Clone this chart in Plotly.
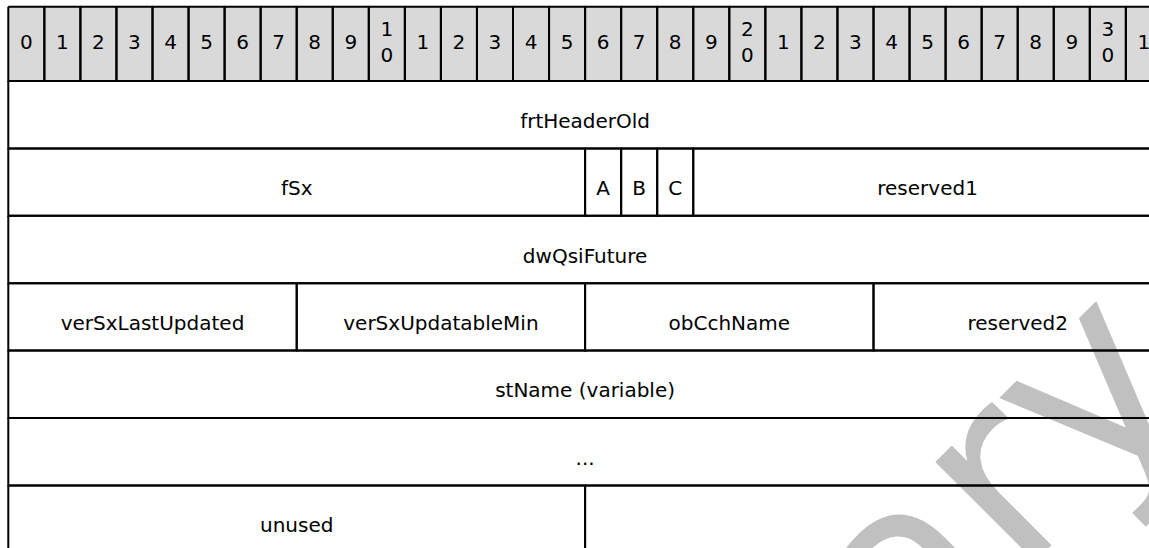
import plotly.graph_objects as go

# ---- data -------------------------------------------------------------
bit_labels = ["0", "1", "2", "3", "4", "5", "6", "7", "8", "9",
              "1<br>0", "1", "2", "3", "4", "5", "6", "7", "8", "9",
              "2<br>0", "1", "2", "3", "4", "5", "6", "7", "8", "9",
              "3<br>0", "1"]

field_names = ["frtHeaderOld", "fSx", "A", "B", "C", "reserved1", "dwQsiFuture",
               "verSxLastUpdated", "verSxUpdatableMin", "obCchName", "reserved2",
               "stName (variable)", "...", "unused", ""]
field_rows = [0, 1, 1, 1, 1, 1, 2, 3, 3, 3, 3, 4, 5, 6, 6]
field_start_bits = [0, 0, 16, 17, 18, 19, 0, 0, 8, 16, 24, 0, 0, 0, 16]
field_bit_lengths = [32, 16, 1, 1, 1, 13, 32, 8, 8, 8, 8, 32, 32, 16, 16]

watermark_text = "Preliminary"

# ---- layout constants -------------------------------------------------
W, H = 1149, 548
X0_PX = 8.3          # pixel of bit 0 left edge
BIT_PX = 36.05       # pixels per bit
HEADER_TOP = 6.7
HEADER_BOTTOM = 81.0
ROW_H = 67.4
TEXT_DY = 8.0
FONT = "DejaVu Sans"
FONT_SIZE = 20
HEADER_FILL = "#d9d9d9"
WM_COLOR = "#c0c0c0"
WM_SIZE = 258
WM_CENTER_PX = (610, 834)

n_bits = len(bit_labels)

# ---- borders ----------------------------------------------------------
bx, by = [], []


def add_rect(x0, x1, y0, y1):
    bx.extend([x0, x1, x1, x0, x0, None])
    by.extend([y0, y0, y1, y1, y0, None])


for i in range(n_bits):
    add_rect(i, i + 1, HEADER_TOP, HEADER_BOTTOM)

for r, s, l in zip(field_rows, field_start_bits, field_bit_lengths):
    y0 = HEADER_BOTTOM + r * ROW_H
    add_rect(s, s + l, y0, y0 + ROW_H)

fig = go.Figure()

fig.add_trace(go.Scatter(
    x=bx, y=by, mode="lines",
    line=dict(color="black", width=2),
    hoverinfo="skip", showlegend=False,
))

# header labels
fig.add_trace(go.Scatter(
    x=[i + 0.5 for i in range(n_bits)],
    y=[(HEADER_TOP + HEADER_BOTTOM) / 2] * n_bits,
    mode="text", text=bit_labels, textposition="middle center",
    textfont=dict(family=FONT, size=FONT_SIZE, color="black"),
    hoverinfo="skip", showlegend=False,
))

# field labels
fig.add_trace(go.Scatter(
    x=[s + l / 2 for s, l in zip(field_start_bits, field_bit_lengths)],
    y=[HEADER_BOTTOM + (r + 0.5) * ROW_H + TEXT_DY for r in field_rows],
    mode="text", text=field_names, textposition="middle center",
    textfont=dict(family=FONT, size=FONT_SIZE, color="black"),
    hoverinfo="skip", showlegend=False,
))

# header background
fig.add_shape(type="rect", xref="x", yref="y",
              x0=0, x1=n_bits, y0=HEADER_TOP, y1=HEADER_BOTTOM,
              fillcolor=HEADER_FILL, line=dict(width=0), layer="below")

# watermark (label of an invisible shape, drawn beneath the lines)
wcx = (WM_CENTER_PX[0] - X0_PX) / BIT_PX
wcy = WM_CENTER_PX[1]
fig.add_shape(type="rect", xref="x", yref="y",
              x0=wcx - 0.05, x1=wcx + 0.05, y0=wcy - 1, y1=wcy + 1,
              fillcolor="rgba(0,0,0,0)", line=dict(width=0), layer="below",
              label=dict(text=watermark_text, textangle=-45,
                         textposition="middle center",
                         font=dict(family=FONT, size=WM_SIZE, color=WM_COLOR)))

fig.update_layout(
    width=W, height=H,
    margin=dict(l=0, r=0, t=0, b=0),
    paper_bgcolor="white", plot_bgcolor="white",
    xaxis=dict(range=[(0 - X0_PX) / BIT_PX, (W - X0_PX) / BIT_PX],
               visible=False, fixedrange=True),
    yaxis=dict(range=[H, 0], visible=False, fixedrange=True),
    showlegend=False,
)

fig.write_html(
    "out.html",
    config={"displayModeBar": False},
    post_script="document.body.style.margin='0';"
                "document.body.style.overflow='hidden';",
)
